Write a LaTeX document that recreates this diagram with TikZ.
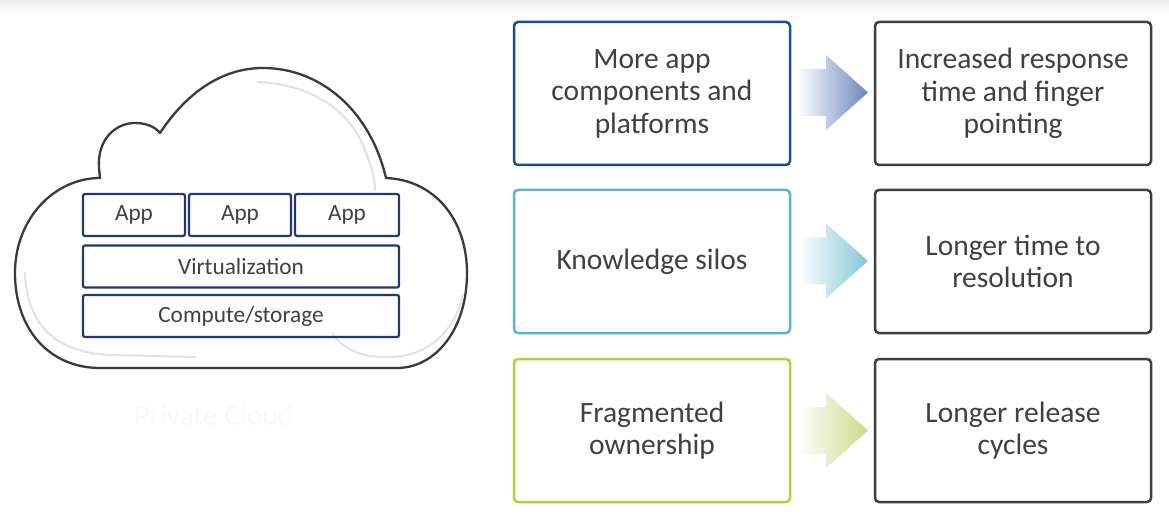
\documentclass[tikz,border=0pt]{standalone}
\usepackage{fontspec}
\setmainfont{Carlito}
\definecolor{txt}{HTML}{404040}
\definecolor{navy}{HTML}{1F3A6B}
\definecolor{rowA}{HTML}{1E4A94}
\definecolor{rowB}{HTML}{5AB4CC}
\definecolor{rowC}{HTML}{B3CF3C}
\definecolor{rowR}{HTML}{3F3F3F}
\definecolor{arrA}{HTML}{6C86BC}
\definecolor{arrB}{HTML}{86C6D6}
\definecolor{arrC}{HTML}{C9DC8C}
\definecolor{cloudline}{HTML}{3A3A3A}
\definecolor{faint}{HTML}{E2E2E2}
\definecolor{ghost}{HTML}{F8F8F8}
\tikzset{
  bigbox/.style={draw, line width=2.5pt, rounded corners=4pt, minimum width=276pt, minimum height=143pt, align=center, text=txt, font=\fontsize{29.5}{32.5}\selectfont, inner sep=0pt},
  layerbox/.style={draw=navy, line width=2.2pt, rounded corners=2pt, minimum height=42pt, text=txt, font=\fontsize{23.3}{26}\selectfont, inner sep=0pt},
}
\begin{document}
\begin{tikzpicture}[x=1pt,y=-1pt]
\useasboundingbox (0,0) rectangle (1169,518);
\fill[white] (0,0) rectangle (1169,518);
\shade[top color=gray!14, bottom color=white] (0,0) rectangle (1169,14);

% cloud
\draw[cloudline, line width=2.3pt, line join=round]
  (100,368) .. controls (50,368) and (15,330) .. (15,273)
  .. controls (15,218) and (55,178) .. (100,178)
  -- (99,168) .. controls (97,140) and (115,123) .. (135,123)
  .. controls (148,123) and (156,128) .. (160,133)
  .. controls (185,95) and (220,68) .. (263,68)
  .. controls (320,68) and (370,110) .. (386,178)
  .. controls (435,180) and (467,220) .. (467,273)
  .. controls (467,330) and (435,368) .. (397,368)
  -- cycle;
\draw[faint, line width=2pt, line cap=round]
  (258,82) .. controls (310,84) and (350,110) .. (365,150) .. controls (372,168) and (375,180) .. (375,190);
\draw[faint, line width=2pt, line cap=round]
  (25,273) .. controls (27,320) and (50,352) .. (110,355) -- (195,357);
\draw[faint, line width=2pt, line cap=round]
  (332,333) .. controls (345,352) and (365,358) .. (393,357) .. controls (430,355) and (455,330) .. (463,295);

% layers
\node[layerbox, minimum width=102pt] (app1) at (134,215) {App};
\node[layerbox, minimum width=102pt] (app2) at (240,215) {App};
\node[layerbox, minimum width=104pt] (app3) at (347,215) {App};
\node[layerbox, minimum width=316pt] (virt) at (241,266.5) {Virtualization};
\node[layerbox, minimum width=316pt] (comp) at (241,316) {Compute/storage};
\node[text=ghost, font=\fontsize{29.5}{32}\selectfont] (pc) at (214,415) {Private Cloud};

% boxes
\node[bigbox, draw=rowA] (l1) at (652,93.5) {More app\\components and\\platforms};
\node[bigbox, draw=rowB] (l2) at (652,261.5) {Knowledge silos};
\node[bigbox, draw=rowC] (l3) at (652,430.5) {Fragmented\\ownership};
\node[bigbox, draw=rowR] (r1) at (1013,93.5) {Increased response\\time and finger\\pointing};
\node[bigbox, draw=rowR] (r2) at (1013,261.5) {Longer time to\\resolution};
\node[bigbox, draw=rowR] (r3) at (1013,430.5) {Longer release\\cycles};

% arrows
\foreach \cy/\col in {92.5/arrA, 261/arrB, 430.5/arrC}{
  \shade[left color=white, right color=\col]
    (797,\cy-23.5) -- (826,\cy-23.5) -- (826,\cy-37.5) -- (868,\cy) -- (826,\cy+37.5) -- (826,\cy+23.5) -- (797,\cy+23.5) -- cycle;
}
\end{tikzpicture}
\end{document}
